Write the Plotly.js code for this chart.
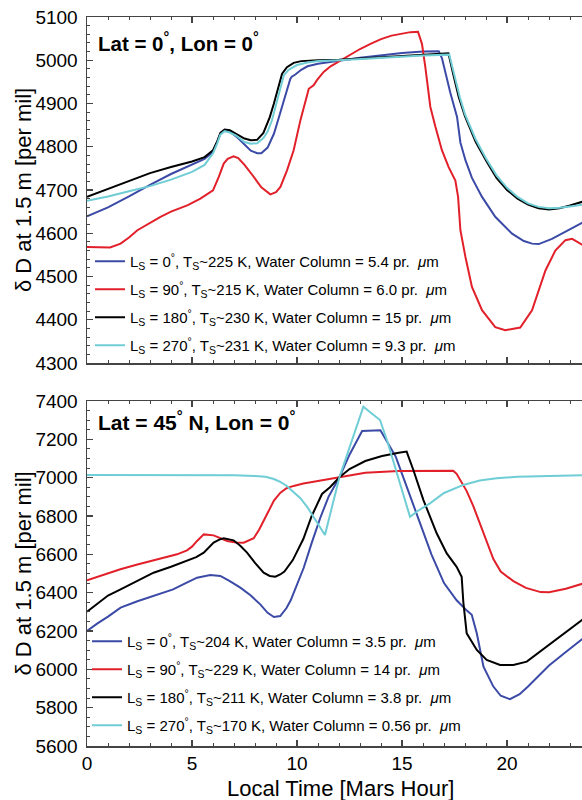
<!DOCTYPE html>
<html>
<head>
<meta charset="utf-8">
<script src="https://cdn.plot.ly/plotly-3.0.1.min.js"></script>
<style>
html,body{margin:0;padding:0;background:#ffffff;}
#chart{width:582px;height:800px;}
</style>
</head>
<body>
<div id="chart"></div>
<script>
// ---------- Top panel: Lat = 0°, Lon = 0° ----------
const topLs0Hour = [0,1,2,3,4,5,5.6,6.0,6.2,6.35,6.55,6.8,7.1,7.5,7.8,8.1,8.3,8.6,8.9,9.1,9.3,9.5,9.68,9.75,9.92,10.2,10.5,11,11.5,12,13,14,15,16,16.75,16.9,17.1,17.3,17.62,17.78,18.02,18.33,18.81,19.44,20.24,20.8,21.19,21.51,22.14,22.8,23.1,23.6];
const topLs0Val  = [4639,4660,4685,4712,4737,4758,4772,4788,4810,4830,4838,4835,4824,4805,4791,4785,4785,4798,4830,4862,4895,4930,4957,4962,4967,4978,4986,4992,4996,4999,5006,5012,5017,5020,5021,5005,4965,4925,4869,4810,4769,4728,4684,4638,4599,4582,4576,4575,4587,4604,4611,4625];

const topLs90Hour = [0,0.5,1.1,1.6,2.0,2.4,3.0,3.5,4.0,4.8,5.4,6.0,6.27,6.51,6.7,6.98,7.2,7.5,7.9,8.3,8.73,9.0,9.21,9.52,9.84,10.16,10.56,10.79,10.95,11.27,11.6,12,12.5,13,13.5,14,14.5,15,15.4,15.76,15.95,16.11,16.35,16.59,16.9,17.22,17.54,17.67,17.78,18.02,18.33,18.81,19.44,19.92,20.63,21.19,21.83,22.3,22.78,23.1,23.6];
const topLs90Val  = [4568,4567,4567,4576,4590,4607,4625,4638,4650,4665,4680,4699,4730,4761,4772,4778,4774,4758,4733,4706,4690,4695,4707,4745,4792,4861,4934,4942,4954,4973,4986,4998,5012,5026,5038,5049,5057,5062,5065,5066,5038,4984,4892,4846,4792,4753,4722,4684,4607,4545,4476,4422,4383,4376,4382,4422,4514,4560,4584,4587,4573];

const topLs180Hour = [0,1,2,3,4,5,5.6,6.0,6.2,6.35,6.55,6.8,7.1,7.5,7.8,8.1,8.4,8.7,8.9,9.1,9.29,9.52,9.84,10.2,10.5,11,12,13,14,15,16,17.21,17.45,17.7,18.0,18.5,19.0,19.5,20.0,20.5,21.0,21.5,22.0,22.5,23.0,23.6];
const topLs180Val  = [4684,4702,4720,4739,4753,4766,4776,4792,4812,4832,4840,4838,4830,4819,4815,4816,4832,4868,4900,4935,4969,4984,4994,4998,4999,5000,5001,5004,5008,5011,5014,5016,4965,4915,4870,4812,4768,4728,4700,4680,4666,4658,4655,4658,4664,4673];

const topLs270Hour = [0,1,2,3,4,5,5.6,6.0,6.2,6.35,6.55,6.8,7.1,7.5,7.8,8.1,8.4,8.6,8.8,9.0,9.2,9.37,9.6,10.0,10.5,11,12,13,14,15,16,17.25,17.5,17.75,18.0,18.5,19.0,19.5,20.0,20.5,21.0,21.5,22.0,22.5,23.0,23.6];
const topLs270Val  = [4675,4685,4697,4709,4724,4742,4758,4785,4808,4828,4836,4833,4826,4811,4807,4808,4820,4835,4860,4895,4935,4965,4978,4989,4995,4998,5000,5003,5006,5009,5011,5013,4962,4915,4875,4818,4773,4734,4705,4684,4669,4661,4658,4659,4662,4666];

// ---------- Bottom panel: Lat = 45° N, Lon = 0° ----------
const botLs0Hour = [0,0.5,1,1.6,2.4,3.2,4.1,4.7,5.24,5.87,6.35,6.8,7.3,7.8,8.25,8.6,8.9,9.2,9.5,9.7,10.0,10.32,10.7,11.11,11.5,12.02,12.5,13.1,13.97,14.37,14.7,15.0,15.4,15.8,16.4,17.0,17.6,18.1,18.32,18.56,18.88,19.35,19.7,20.14,20.6,21.0,21.5,22.0,22.8,23.6];
const botLs0Val  = [6200,6240,6275,6322,6355,6385,6417,6450,6478,6492,6487,6460,6426,6385,6339,6295,6273,6278,6320,6360,6440,6530,6660,6791,6900,7002,7120,7243,7247,7174,7110,7020,6900,6790,6600,6450,6360,6305,6285,6188,6014,5910,5862,5844,5870,5910,5965,6020,6090,6160];

const botLs90Hour = [0,0.8,1.59,2.4,3.17,3.8,4.29,4.76,5.0,5.24,5.56,6.03,6.4,6.67,7.1,7.46,7.94,8.2,8.57,8.9,9.21,9.5,9.84,10.3,10.79,11.4,12.02,13.25,14.84,16.0,17.44,17.6,17.8,18.08,18.4,18.71,19.0,19.35,19.7,20.3,20.9,21.6,22.0,22.8,23.6];
const botLs90Val  = [6464,6495,6522,6547,6569,6585,6600,6621,6640,6670,6704,6699,6682,6670,6662,6661,6684,6730,6809,6880,6922,6945,6957,6970,6979,6990,7002,7026,7035,7037,7036,7020,6985,6930,6850,6760,6670,6575,6510,6460,6425,6403,6402,6420,6447];

const botLs180Hour = [0,0.5,1,1.6,2.4,3.17,4.0,4.76,5.2,5.56,5.8,6.03,6.3,6.51,6.98,7.3,7.62,8.0,8.41,8.7,8.97,9.2,9.4,9.8,10.3,10.7,11.19,11.57,12.02,12.5,13.25,14.05,14.84,15.22,15.54,16.02,16.65,17.13,17.6,17.84,17.92,18.08,18.56,19.03,19.67,20.3,20.94,21.9,22.8,23.6];
const botLs180Val  = [6301,6345,6385,6417,6460,6504,6535,6565,6585,6609,6635,6661,6677,6684,6673,6645,6609,6555,6504,6487,6483,6495,6510,6570,6680,6800,6915,6950,7002,7045,7087,7113,7130,7136,7040,6883,6710,6605,6535,6483,6350,6188,6101,6049,6023,6023,6040,6118,6195,6260];

const botLs270Hour = [0,2,4,6,7,8,8.5,8.9,9.2,9.5,9.8,10.16,10.5,10.8,11.1,11.33,12.02,12.5,13.16,13.5,13.95,14.3,14.6,15.0,15.38,15.8,16.33,17.0,17.92,18.7,19.5,20.5,21.9,23.6];
const botLs270Val  = [7014,7014,7014,7014,7013,7009,7005,6993,6978,6958,6930,6893,6845,6795,6745,6701,7002,7157,7370,7340,7301,7190,7080,6940,6796,6830,6866,6920,6962,6985,6997,7005,7010,7013];

// ---------- Text ----------
const topLabels = [
  'L<sub>S</sub> = 0<sup>°</sup>, T<sub>S</sub>~225 K, Water Column = 5.4 pr.  <i>μ</i>m',
  'L<sub>S</sub> = 90<sup>°</sup>, T<sub>S</sub>~215 K, Water Column = 6.0 pr.  <i>μ</i>m',
  'L<sub>S</sub> = 180<sup>°</sup>, T<sub>S</sub>~230 K, Water Column = 15 pr.  <i>μ</i>m',
  'L<sub>S</sub> = 270<sup>°</sup>, T<sub>S</sub>~231 K, Water Column = 9.3 pr.  <i>μ</i>m'
];
const botLabels = [
  'L<sub>S</sub> = 0<sup>°</sup>, T<sub>S</sub>~204 K, Water Column = 3.5 pr.  <i>μ</i>m',
  'L<sub>S</sub> = 90<sup>°</sup>, T<sub>S</sub>~229 K, Water Column = 14 pr.  <i>μ</i>m',
  'L<sub>S</sub> = 180<sup>°</sup>, T<sub>S</sub>~211 K, Water Column = 3.8 pr.  <i>μ</i>m',
  'L<sub>S</sub> = 270<sup>°</sup>, T<sub>S</sub>~170 K, Water Column = 0.56 pr.  <i>μ</i>m'
];
const topPanelTitle = '<b>Lat = 0<sup>°</sup>, Lon = 0<sup>°</sup></b>';
const botPanelTitle = '<b>Lat = 45<sup>°</sup> N, Lon = 0<sup>°</sup></b>';
const yTitle = 'δ D at 1.5 m [per mil]';
const xTitle = 'Local Time [Mars Hour]';

const colors = ['#3b4aa6', '#e2202a', '#000000', '#6fcdd5'];
const FONT = 'Liberation Sans, Arial, Helvetica, sans-serif';

const topX = [topLs0Hour, topLs90Hour, topLs180Hour, topLs270Hour];
const topY = [topLs0Val, topLs90Val, topLs180Val, topLs270Val];
const botX = [botLs0Hour, botLs90Hour, botLs180Hour, botLs270Hour];
const botY = [botLs0Val, botLs90Val, botLs180Val, botLs270Val];

const traces = [];
for (let i = 0; i < 4; i++) {
  traces.push({
    type: 'scatter', mode: 'lines', x: topX[i], y: topY[i],
    xaxis: 'x', yaxis: 'y', name: topLabels[i], legend: 'legend',
    legendgroup: 't' + i,
    line: {color: colors[i], width: 2}, hoverinfo: 'skip'
  });
}
for (let i = 0; i < 4; i++) {
  traces.push({
    type: 'scatter', mode: 'lines', x: botX[i], y: botY[i],
    xaxis: 'x2', yaxis: 'y2', name: botLabels[i], legend: 'legend2',
    legendgroup: 'b' + i,
    line: {color: colors[i], width: 2}, hoverinfo: 'skip'
  });
}

const W = 582, H = 800;
const plotL = 87;
const xDom = [plotL / W, 1];
const topDom = [1 - 363 / H, 1 - 17 / H];
const botDom = [1 - 746 / H, 1 - 401 / H];
const AX = '#444444';

function xAxis(anchor, labels) {
  return {
    domain: xDom, anchor: anchor, range: [0, 23.57],
    tick0: 0, dtick: 5, ticks: 'inside', ticklen: 6, tickwidth: 1.2, tickcolor: AX,
    minor: {dtick: 1, ticks: 'inside', ticklen: 3, tickwidth: 1, tickcolor: AX},
    showline: true, linecolor: AX, linewidth: 1.5, mirror: 'ticks',
    showgrid: false, zeroline: false, showticklabels: labels,
    tickfont: {family: FONT, size: 19, color: '#000'}
  };
}
function yAxis(anchor, dom, rng, dt, mdt) {
  return {
    domain: dom, anchor: anchor, range: rng,
    tick0: rng[0], dtick: dt, ticks: 'inside', ticklen: 6, tickwidth: 1.2, tickcolor: AX,
    minor: {dtick: mdt, ticks: 'inside', ticklen: 3, tickwidth: 1, tickcolor: AX},
    showline: true, linecolor: AX, linewidth: 1.5, mirror: false,
    showgrid: false, zeroline: false,
    tickfont: {family: FONT, size: 19, color: '#000'},
    ticklabelstandoff: 4
  };
}

const legendBase = {
  xref: 'paper', yref: 'paper', xanchor: 'left', yanchor: 'top',
  bgcolor: 'rgba(0,0,0,0)', borderwidth: 0,
  font: {family: FONT, size: 15, color: '#000'},
  itemwidth: 30, tracegroupgap: 5.5, traceorder: 'grouped'
};

const titleFont = {family: FONT, size: 22, color: '#000'};

const layout = {
  width: W, height: H,
  margin: {l: 0, r: 0, t: 0, b: 0, pad: 0},
  paper_bgcolor: '#ffffff', plot_bgcolor: '#ffffff',
  font: {family: FONT, color: '#000'},
  showlegend: true,
  xaxis: xAxis('y', false),
  yaxis: yAxis('x', topDom, [4300, 5100], 100, 20),
  xaxis2: xAxis('y2', true),
  yaxis2: yAxis('x2', botDom, [5600, 7400], 200, 50),
  legend: Object.assign({}, legendBase, {x: 90 / W, y: 1 - 245 / H}),
  legend2: Object.assign({}, legendBase, {x: 87 / W, y: 1 - 625 / H}),
  annotations: [
    {xref: 'paper', yref: 'paper', x: 96 / W, y: 1 - 42 / H, xanchor: 'left', yanchor: 'middle',
     showarrow: false, text: topPanelTitle, font: {family: FONT, size: 20.5, color: '#000'}},
    {xref: 'paper', yref: 'paper', x: 96 / W, y: 1 - 421 / H, xanchor: 'left', yanchor: 'middle',
     showarrow: false, text: botPanelTitle, font: {family: FONT, size: 21, color: '#000'}},
    {xref: 'paper', yref: 'paper', x: 23 / W, y: 1 - 190 / H, xanchor: 'center', yanchor: 'middle',
     textangle: -90, showarrow: false, text: yTitle, font: titleFont},
    {xref: 'paper', yref: 'paper', x: 23 / W, y: 1 - 573.5 / H, xanchor: 'center', yanchor: 'middle',
     textangle: -90, showarrow: false, text: yTitle, font: titleFont},
    {xref: 'paper', yref: 'paper', x: 340 / W, y: 1 - 788 / H, xanchor: 'center', yanchor: 'middle',
     showarrow: false, text: xTitle, font: titleFont}
  ]
};

Plotly.newPlot('chart', traces, layout, {displayModeBar: false, staticPlot: true});
</script>
</body>
</html>
